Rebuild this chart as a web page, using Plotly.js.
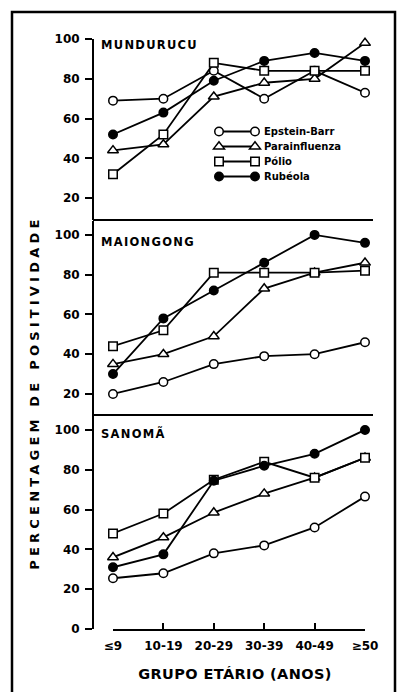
<!DOCTYPE html>
<html>
<head>
<meta charset="utf-8">
<script src="https://cdn.plot.ly/plotly-3.0.1.min.js"></script>
<style>
html,body{margin:0;padding:0;background:#fff;}
#chart{width:398px;height:692px;}
</style>
</head>
<body>
<div id="chart"></div>
<script>
// ---- data ----
const ageGroups = ['≤9', '10-19', '20-29', '30-39', '40-49', '≥50'];
const seriesNames = ['Epstein-Barr', 'Parainfluenza', 'Pólio', 'Rubéola'];
const panelNames = ['MUNDURUCU', 'MAIONGONG', 'SANOMÃ'];

const munduruEpstein = [69, 70, 84, 70, 84, 73];
const munduruPara = [44, 47, 71, 78, 80, 98];
const munduruPolio = [32, 52, 88, 84, 84, 84];
const munduruRubeola = [52, 63, 79, 89, 93, 89];

const maiongongEpstein = [20, 26, 35, 39, 40, 46];
const maiongongPara = [35, 40, 49, 73, 81, 86];
const maiongongPolio = [44, 52, 81, 81, 81, 82];
const maiongongRubeola = [30, 58, 72, 86, 100, 96];

const sanomaEpstein = [25.5, 28, 38, 42, 51, 66.5];
const sanomaPara = [36, 46, 58.5, 68, 76, 86];
const sanomaPolio = [48, 58, 75, 84, 76, 86];
const sanomaRubeola = [31, 37.5, 74.5, 82, 88, 100];

const yTitle = 'PERCENTAGEM DE POSITIVIDADE';
const xTitle = 'GRUPO ETÁRIO (ANOS)';

// ---- styling ----
const W = 398, H = 692;
const px = v => v / W;
const py = v => 1 - v / H;
const markerStyles = [
  {symbol: 'circle', size: 8.5, color: '#fff', line: {color: '#000', width: 1.5}},
  {symbol: 'triangle-up', size: 9.5, color: '#fff', line: {color: '#000', width: 1.5}},
  {symbol: 'square', size: 8.5, color: '#fff', line: {color: '#000', width: 1.5}},
  {symbol: 'circle', size: 8.5, color: '#000', line: {color: '#000', width: 1.5}}
];

const panels = [
  {axis: 'y', data: [munduruEpstein, munduruPara, munduruPolio, munduruRubeola]},
  {axis: 'y2', data: [maiongongEpstein, maiongongPara, maiongongPolio, maiongongRubeola]},
  {axis: 'y3', data: [sanomaEpstein, sanomaPara, sanomaPolio, sanomaRubeola]}
];

const traces = [];
panels.forEach((p, pi) => {
  p.data.forEach((vals, si) => {
    traces.push({
      type: 'scatter', mode: 'lines+markers',
      x: ageGroups, y: vals, xaxis: 'x', yaxis: p.axis,
      name: seriesNames[si], legendgroup: seriesNames[si],
      showlegend: pi === 0,
      cliponaxis: false,
      line: {color: '#000', width: 1.8},
      marker: markerStyles[si],
      hoverinfo: 'skip'
    });
  });
});

const tickFont = {family: 'DejaVu Sans', size: 12, color: '#000', weight: 'bold'};
const yCommon = {
  anchor: 'free', position: px(93),
  showline: true, linecolor: '#000', linewidth: 2,
  ticks: 'outside', ticklen: 7, tickwidth: 2, tickcolor: '#000',
  tickfont: tickFont, showgrid: false, zeroline: false,
  fixedrange: true, ticklabelstandoff: 3
};

const layout = {
  width: W, height: H, autosize: false,
  margin: {l: 0, r: 0, t: 0, b: 0},
  paper_bgcolor: '#fff', plot_bgcolor: 'rgba(0,0,0,0)',
  showlegend: true,
  legend: {
    x: px(224), y: py(117), xanchor: 'left', yanchor: 'top',
    bgcolor: 'rgba(0,0,0,0)', borderwidth: 0,
    font: {family: 'DejaVu Sans', size: 10, color: '#000', weight: 'bold'},
    tracegroupgap: 0, itemwidth: 30
  },
  xaxis: {
    type: 'category', domain: [px(113), px(365)], range: [0, 5],
    anchor: 'y3', showline: true, linecolor: '#000', linewidth: 2,
    ticks: 'inside', ticklen: 6, tickwidth: 2, tickcolor: '#000',
    tickfont: tickFont, showgrid: false, zeroline: false,
    ticklabelstandoff: 5, fixedrange: true
  },
  yaxis: Object.assign({}, yCommon, {
    domain: [py(220), py(39)], range: [9, 100], tickvals: [20, 40, 60, 80, 100]
  }),
  yaxis2: Object.assign({}, yCommon, {
    domain: [py(415), py(221)], range: [9.4, 107], tickvals: [20, 40, 60, 80, 100]
  }),
  yaxis3: Object.assign({}, yCommon, {
    domain: [py(629), py(415)], range: [0, 107.5], tickvals: [0, 20, 40, 60, 80, 100]
  }),
  shapes: [
    {type: 'rect', xref: 'paper', yref: 'paper', x0: px(12), x1: px(395), y0: -0.05, y1: py(12),
     line: {color: '#000', width: 2.5}, fillcolor: 'rgba(0,0,0,0)'},
    {type: 'line', xref: 'paper', yref: 'paper', x0: px(93), x1: px(373), y0: py(220), y1: py(220),
     line: {color: '#000', width: 2}},
    {type: 'line', xref: 'paper', yref: 'paper', x0: px(93), x1: px(373), y0: py(415), y1: py(415),
     line: {color: '#000', width: 2}}
  ],
  annotations: [
    {text: panelNames[0], xref: 'paper', yref: 'y', x: px(99), y: 97, xanchor: 'left', yanchor: 'middle', align: 'left',
     showarrow: false, font: {family: 'DejaVu Sans', size: 11.5, color: '#000', weight: 'bold'}},
    {text: panelNames[1], xref: 'paper', yref: 'y2', x: px(99), y: 96.2, xanchor: 'left', yanchor: 'middle', align: 'left',
     showarrow: false, font: {family: 'DejaVu Sans', size: 11.5, color: '#000', weight: 'bold'}},
    {text: panelNames[2], xref: 'paper', yref: 'y3', x: px(99), y: 98, xanchor: 'left', yanchor: 'middle', align: 'left',
     showarrow: false, font: {family: 'DejaVu Sans', size: 11.5, color: '#000', weight: 'bold'}},
    {text: yTitle, xref: 'paper', yref: 'paper', x: px(34), y: py(393), textangle: -90,
     xanchor: 'center', yanchor: 'middle', showarrow: false,
     font: {family: 'DejaVu Sans', size: 13, color: '#000', weight: 'bold'}},
    {text: xTitle, xref: 'paper', yref: 'paper', x: px(235), y: py(674),
     xanchor: 'center', yanchor: 'middle', showarrow: false,
     font: {family: 'DejaVu Sans', size: 14.5, color: '#000', weight: 'bold'}}
  ]
};

Plotly.newPlot('chart', traces, layout, {staticPlot: true, displayModeBar: false}).then(() => {
  const spacing = ['1.3px', '1.3px', '1.3px', '4.2px', '0.4px'];
  document.querySelectorAll('g.annotation').forEach(g => {
    const i = +g.getAttribute('data-index');
    const t = g.querySelector('text');
    if (t && spacing[i]) t.style.letterSpacing = spacing[i];
  });
  // compact key like the original: 15px rows, a marker at each end of the line
  document.querySelectorAll('g.legend [clip-path]').forEach(e => e.removeAttribute('clip-path'));
  const items = document.querySelectorAll('g.legend g.traces');
  let y0 = null;
  items.forEach((it, i) => {
    const m = /translate\(([-\d.]+)[ ,]+([-\d.]+)\)/.exec(it.getAttribute('transform') || '');
    if (m) {
      if (y0 === null) y0 = +m[2];
      it.setAttribute('transform', 'translate(' + m[1] + ',' + (y0 + i * 15) + ')');
    }
    const ln = it.querySelector('g.legendlines path');
    if (ln) ln.setAttribute('d', 'M-5,0h36');
    const pt = it.querySelector('path.scatterpts');
    if (pt) {
      const clone = pt.cloneNode(true);
      pt.setAttribute('transform', 'translate(-5,0)');
      clone.setAttribute('transform', 'translate(31,0)');
      pt.parentNode.appendChild(clone);
    }
  });
});
</script>
</body>
</html>
